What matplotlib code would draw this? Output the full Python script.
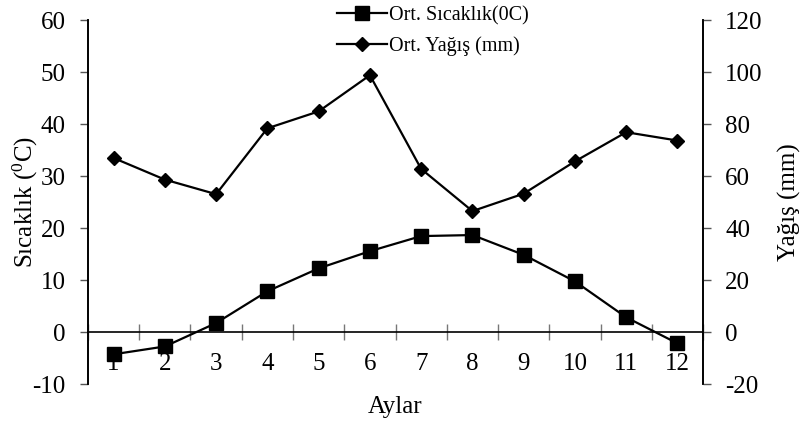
import matplotlib
matplotlib.use('Agg')
import matplotlib.pyplot as plt
from matplotlib.ticker import FixedLocator, FixedFormatter
import numpy as np

# monthly values
months = [1, 2, 3, 4, 5, 6, 7, 8, 9, 10, 11, 12]
month_labels = ['1', '2', '3', '4', '5', '6', '7', '8', '9', '10', '11', '12']
temperature = [-4.2, -2.7, 1.8, 7.9, 12.3, 15.6, 18.5, 18.7, 14.9, 9.8, 2.9, -2.1]
precipitation = [67.0, 58.7, 53.1, 78.4, 84.9, 98.8, 62.8, 46.6, 53.3, 65.7, 76.9, 73.7]

left_ticks = [-10, 0, 10, 20, 30, 40, 50, 60]
right_ticks = [-20, 0, 20, 40, 60, 80, 100, 120]

plt.rcParams['font.family'] = ['Liberation Serif', 'DejaVu Serif']
plt.rcParams['axes.unicode_minus'] = False

fig = plt.figure(figsize=(8.1, 4.24), dpi=100)
ax1 = fig.add_axes([0.1086, 0.0932, 0.7594, 0.8596])
ax2 = ax1.twinx()

l1, = ax1.plot(months, temperature, color='black', lw=1.6, marker='s',
               markersize=10, label='Ort. Sıcaklık(0C)', zorder=3)
l2, = ax2.plot(months, precipitation, color='black', lw=1.6, marker='D',
               markersize=7.5, label='Ort. Yağış (mm)', zorder=3)

ax1.set_xlim(0.5, 12.5)
ax1.set_ylim(-10, 60)
ax2.set_ylim(-20, 120)

# x axis crosses at zero, ticks on category boundaries
ax1.spines['bottom'].set_position(('data', 0))
ax1.spines['top'].set_visible(False)
ax2.spines['top'].set_visible(False)
ax2.spines['bottom'].set_visible(False)
for ax in (ax1, ax2):
    for s in ax.spines.values():
        s.set_linewidth(1.2)

ax1.xaxis.set_major_locator(FixedLocator(np.arange(0.5, 13, 1.0)))
ax1.xaxis.set_minor_locator(FixedLocator(months))
ax1.set_xticklabels([])
ax1.xaxis.set_minor_formatter(FixedFormatter(month_labels))
ax1.tick_params(axis='x', which='major', direction='inout', length=11.5,
                width=1, color='#777777')
ax1.tick_params(axis='x', which='minor', length=0, pad=15, labelsize=18)

ax1.set_yticks(left_ticks)
ax2.set_yticks(right_ticks)
ax1.tick_params(axis='y', direction='out', length=6, width=1, color='#555555',
                pad=10, labelsize=18)
ax2.tick_params(axis='y', direction='out', length=6, width=1, color='#555555',
                pad=10, labelsize=18)

ax1.set_xlabel('Aylar', fontsize=18, va='center')
ax1.xaxis.set_label_coords(0.5, -0.062)
ax1.set_ylabel(r'Sıcaklık ($\mathregular{^0}$C)', fontsize=18, va='center')
ax1.yaxis.set_label_coords(-0.102, 0.5)
ax2.set_ylabel('Yağış (mm)', fontsize=18, rotation=90, va='center')
ax2.yaxis.set_label_coords(1.141, 0.5)

fig.legend(handles=[l1, l2], loc='upper left',
           bbox_to_anchor=(337 / 810, 1 - 6 / 424), frameon=False,
           fontsize=14.5, handlelength=2.5, handletextpad=0.1,
           labelspacing=0.55, borderpad=0, borderaxespad=0, numpoints=1)

plt.savefig('out.png', dpi=100)
